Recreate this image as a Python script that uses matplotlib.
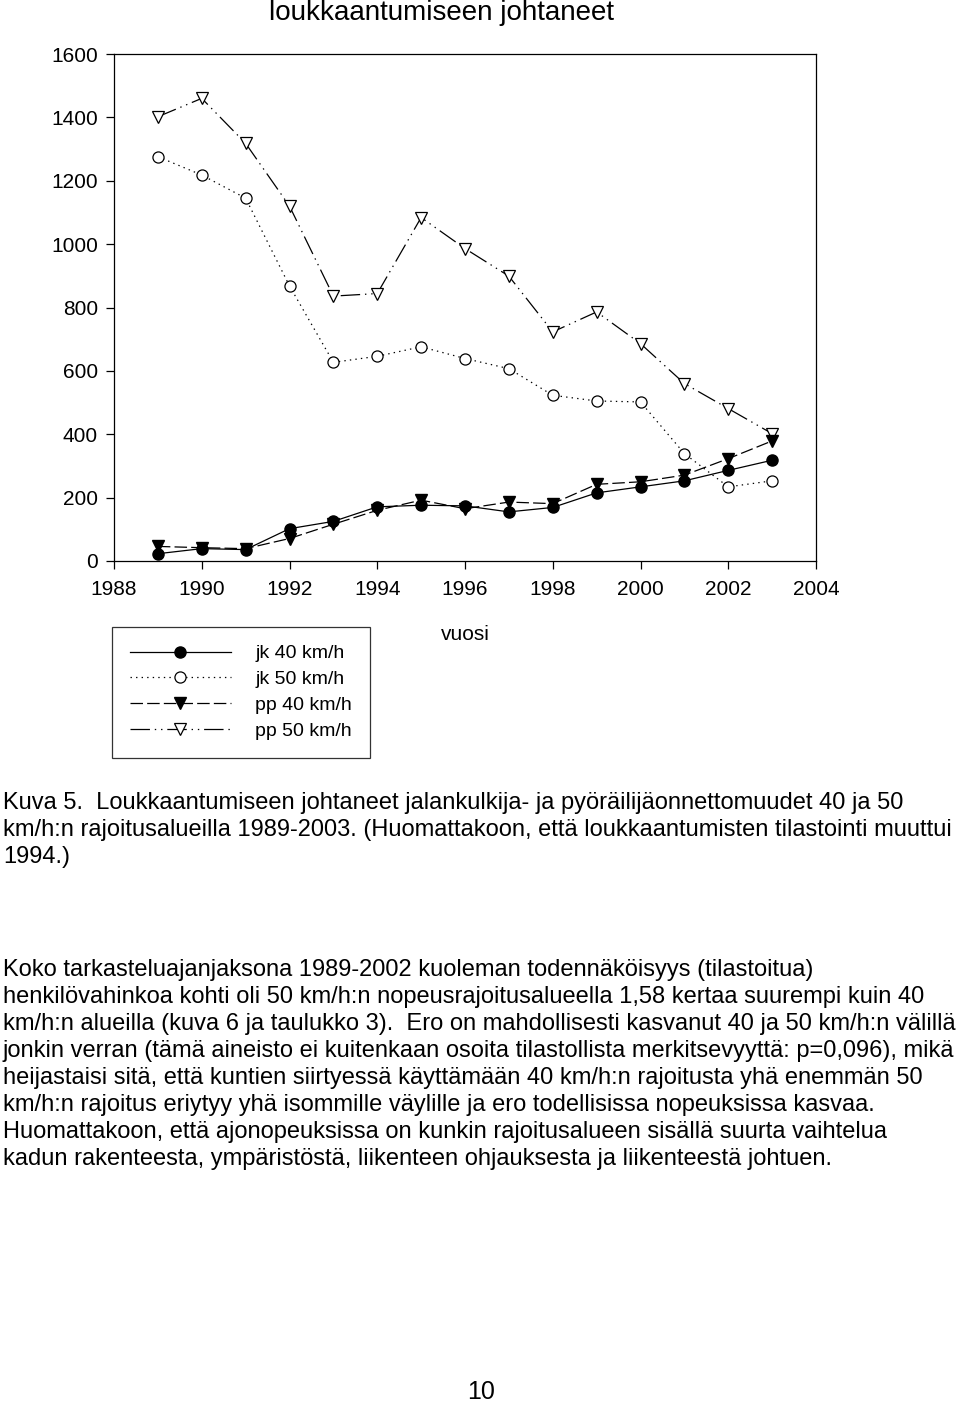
import matplotlib
matplotlib.use('Agg')
import matplotlib.pyplot as plt

plt.rcParams['font.family'] = ['Liberation Sans', 'DejaVu Sans']
plt.rcParams['lines.scale_dashes'] = False

# vuodet ja onnettomuusmäärät (luettu kuvasta)
years = list(range(1989, 2004))
jk40 = [23, 39, 36, 102, 125, 171, 176, 174, 155, 169, 215, 234, 253, 286, 318]
jk50 = [1276, 1218, 1145, 868, 627, 646, 676, 639, 607, 523, 505, 502, 339, 234, 253]
pp40 = [46, 42, 39, 71, 116, 160, 192, 165, 186, 181, 242, 250, 271, 323, 379]
pp50 = [1402, 1460, 1318, 1120, 836, 844, 1084, 986, 899, 723, 786, 686, 560, 481, 402]
labels = ['jk 40 km/h', 'jk 50 km/h', 'pp 40 km/h', 'pp 50 km/h']
xticks = list(range(1988, 2005, 2))
yticks = list(range(0, 1601, 200))

caption = [
    'Kuva 5.  Loukkaantumiseen johtaneet jalankulkija- ja pyöräilijäonnettomuudet 40 ja 50',
    'km/h:n rajoitusalueilla 1989-2003. (Huomattakoon, että loukkaantumisten tilastointi muuttui',
    '1994.)',
]
paragraph = [
    'Koko tarkasteluajanjaksona 1989-2002 kuoleman todennäköisyys (tilastoitua)',
    'henkilövahinkoa kohti oli 50 km/h:n nopeusrajoitusalueella 1,58 kertaa suurempi kuin 40',
    'km/h:n alueilla (kuva 6 ja taulukko 3).  Ero on mahdollisesti kasvanut 40 ja 50 km/h:n välillä',
    'jonkin verran (tämä aineisto ei kuitenkaan osoita tilastollista merkitsevyyttä: p=0,096), mikä',
    'heijastaisi sitä, että kuntien siirtyessä käyttämään 40 km/h:n rajoitusta yhä enemmän 50',
    'km/h:n rajoitus eriytyy yhä isommille väylille ja ero todellisissa nopeuksissa kasvaa.',
    'Huomattakoon, että ajonopeuksissa on kunkin rajoitusalueen sisällä suurta vaihtelua',
    'kadun rakenteesta, ympäristöstä, liikenteen ohjauksesta ja liikenteestä johtuen.',
]

W, H = 960, 1402
fig = plt.figure(figsize=(W / 100, H / 100), dpi=100)
ax = fig.add_axes([114 / W, 1 - 561 / H, (816 - 114) / W, (561 - 54) / H])

lw = 0.9
l_jk50, = ax.plot(years, jk50, color='black', lw=lw, linestyle=(0, (1, 3)),
                  marker='o', ms=8, mfc='white', mec='black', mew=0.9)
l_pp50, = ax.plot(years, pp50, color='black', lw=lw, linestyle=(0, (14, 3.5, 1, 3.5, 1, 3.5)),
                  marker='v', ms=8.5, mfc='white', mec='black', mew=0.9)
l_pp40, = ax.plot(years, pp40, color='black', lw=lw, linestyle=(0, (9, 3)),
                  marker='v', ms=8.5, mfc='black', mec='black')
l_jk40, = ax.plot(years, jk40, color='black', lw=lw, linestyle='-',
                  marker='o', ms=8, mfc='black', mec='black')

ax.set_xlim(1988, 2004)
ax.set_ylim(0, 1600)
ax.set_xticks(xticks)
ax.set_yticks(yticks)
ax.tick_params(direction='out', length=5.5, width=0.9, labelsize=15, colors='black')
ax.tick_params(axis='x', pad=8)
ax.tick_params(axis='y', pad=6)
for s in ax.spines.values():
    s.set_linewidth(0.9)
ax.set_xlabel('vuosi', fontsize=15, labelpad=19)

leg = fig.legend([l_jk40, l_jk50, l_pp40, l_pp50], labels,
                 loc='upper left', bbox_to_anchor=(112 / W, 1 - 627 / H),
                 borderaxespad=0, numpoints=1, handlelength=5.2, handletextpad=1.25,
                 labelspacing=0.42, borderpad=0.92, fontsize=14, fancybox=False)
leg.get_frame().set_edgecolor('black')
leg.get_frame().set_linewidth(0.9)

fig.text(441.5 / W, 1 - 20 / H, 'loukkaantumiseen johtaneet', ha='center', va='baseline', fontsize=20)

for i, line in enumerate(caption):
    fig.text(3 / W, 1 - (803 + 27 * i) / H, line, ha='left', va='center', fontsize=17)
for i, line in enumerate(paragraph):
    fig.text(3 / W, 1 - (970 + 27 * i) / H, line, ha='left', va='center', fontsize=17)

fig.text(481 / W, 1 - 1392 / H, '10', ha='center', va='center', fontsize=18)

fig.savefig('out.png', dpi=100)
